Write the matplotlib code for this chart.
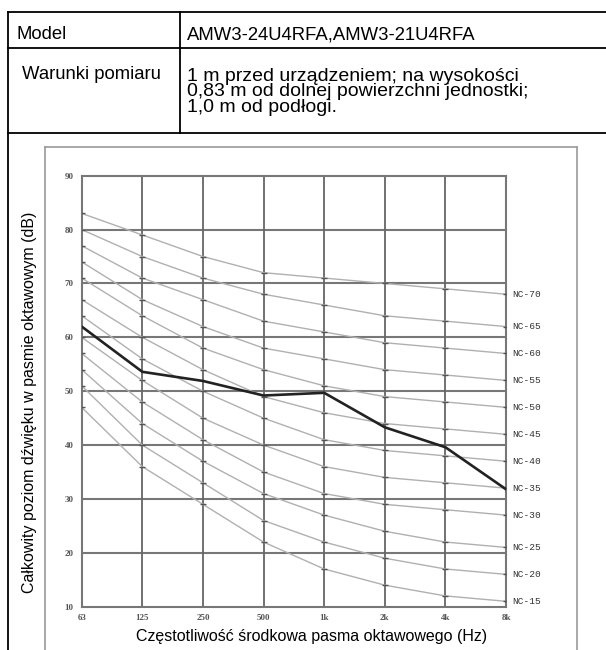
import matplotlib
matplotlib.use("Agg")
import matplotlib.pyplot as plt
from matplotlib.lines import Line2D

# ---- data ----
freq_labels = ["63", "125", "250", "500", "1k", "2k", "4k", "8k"]
unit_levels = [62.0, 53.6, 51.9, 49.2, 49.7, 43.3, 39.6, 31.8]

nc_names = ["NC-15", "NC-20", "NC-25", "NC-30", "NC-35", "NC-40",
            "NC-45", "NC-50", "NC-55", "NC-60", "NC-65", "NC-70"]
nc_15 = [47, 36, 29, 22, 17, 14, 12, 11]
nc_20 = [51, 40, 33, 26, 22, 19, 17, 16]
nc_25 = [54, 44, 37, 31, 27, 24, 22, 21]
nc_30 = [57, 48, 41, 35, 31, 29, 28, 27]
nc_35 = [60, 52, 45, 40, 36, 34, 33, 32]
nc_40 = [64, 56, 50, 45, 41, 39, 38, 37]
nc_45 = [67, 60, 54, 49, 46, 44, 43, 42]
nc_50 = [71, 64, 58, 54, 51, 49, 48, 47]
nc_55 = [74, 67, 62, 58, 56, 54, 53, 52]
nc_60 = [77, 71, 67, 63, 61, 59, 58, 57]
nc_65 = [80, 75, 71, 68, 66, 64, 63, 62]
nc_70 = [83, 79, 75, 72, 71, 70, 69, 68]
nc_curves = [nc_15, nc_20, nc_25, nc_30, nc_35, nc_40,
             nc_45, nc_50, nc_55, nc_60, nc_65, nc_70]

y_ticks = [10, 20, 30, 40, 50, 60, 70, 80, 90]

model_label = "Model"
model_value = "AMW3-24U4RFA,AMW3-21U4RFA"
cond_label = "Warunki pomiaru"
cond_lines = ["1 m przed urządzeniem; na wysokości",
              "0,83 m od dolnej powierzchni jednostki;",
              "1,0 m od podłogi."]
y_label = "Całkowity poziom dźwięku w pasmie oktawowym (dB)"
x_label = "Częstotliwość środkowa pasma oktawowego (Hz)"

# ---- figure ----
W, H = 606, 650
fig = plt.figure(figsize=(W / 100, H / 100), dpi=100)
fig.patch.set_facecolor("white")

def fx(px):
    return px / W

def fy(py):
    return 1 - py / H

# table lines
tl = dict(color="black", lw=1.3, transform=fig.transFigure)
fig.add_artist(Line2D([fx(8.3), 1], [fy(12.3), fy(12.3)], **tl))
fig.add_artist(Line2D([fx(8.3), 1], [fy(48.3), fy(48.3)], **tl))
fig.add_artist(Line2D([fx(8.3), 1], [fy(133.3), fy(133.3)], **tl))
fig.add_artist(Line2D([fx(8.3), fx(8.3)], [fy(12.3), 0], **tl))
fig.add_artist(Line2D([fx(180), fx(180)], [fy(12.3), fy(133.3)], **tl))

# chart frame
fl = dict(color="#999999", lw=1.2, transform=fig.transFigure)
fig.add_artist(Line2D([fx(45), fx(577)], [fy(146.7), fy(146.7)], **fl))
fig.add_artist(Line2D([fx(45), fx(45)], [fy(146.7), 0], **fl))
fig.add_artist(Line2D([fx(577), fx(577)], [fy(146.7), 0], **fl))

sans = "Liberation Sans"
fig.text(fx(16.7), fy(39), model_label, fontsize=13.3, family=sans, va="baseline", ha="left")
fig.text(fx(186.7), fy(40), model_value, fontsize=13.3, family=sans, va="baseline", ha="left")
fig.text(fx(21.7), fy(79.3), cond_label, fontsize=13.3, family=sans, va="baseline", ha="left")
for i, line in enumerate(cond_lines):
    fig.text(fx(186.7), fy(81.0 + 15.5 * i), line, fontsize=14.0, family=sans,
             va="baseline", ha="left")

# ---- axes ----
x0, x1 = 81.7, 506.0
yt, yb = 175.7, 606.7
ax = fig.add_axes([fx(x0), fy(yb), (x1 - x0) / W, (yb - yt) / H])
xs = list(range(len(freq_labels)))
ax.set_xlim(0, len(freq_labels) - 1)
ax.set_ylim(10, 90)

for y in y_ticks[1:-1]:
    ax.axhline(y, color="#777777", lw=1.5, zorder=1)
for x in xs[1:-1]:
    ax.axvline(x, color="#666666", lw=1.3, zorder=1)

for curve in nc_curves:
    ax.plot(xs, curve, color="#b0b0b0", lw=1.0, zorder=2)
    ax.plot(xs, curve, ls="none", marker="_", ms=5, mew=1.0, color="#555555", zorder=3)

ax.plot(xs, unit_levels, color="#222222", lw=1.9, zorder=4)

for name, curve in zip(nc_names, nc_curves):
    ax.text(len(xs) - 1 + 0.11, curve[-1], name, fontsize=6.8, family="Liberation Mono",
            color="#333333", va="center", ha="left", clip_on=False)

for s in ax.spines.values():
    s.set_color("#777777")
    s.set_linewidth(1.5)

ax.set_xticks(xs)
ax.set_xticklabels(freq_labels)
ax.set_yticks(y_ticks)
ax.tick_params(length=0, labelsize=6.5, labelcolor="#555555")
ax.tick_params(axis="y", pad=6)
ax.tick_params(axis="x", pad=5)
for lab in ax.get_xticklabels() + ax.get_yticklabels():
    lab.set_family("Liberation Serif")
    lab.set_fontweight("bold")

fig.text(fx(30), fy(402.3), y_label, rotation=90, fontsize=11.5, family=sans,
         va="center", ha="center")
fig.text(fx(312), fy(636.7), x_label, fontsize=11.5, family=sans,
         va="center", ha="center")

fig.savefig("out.png", dpi=100)
